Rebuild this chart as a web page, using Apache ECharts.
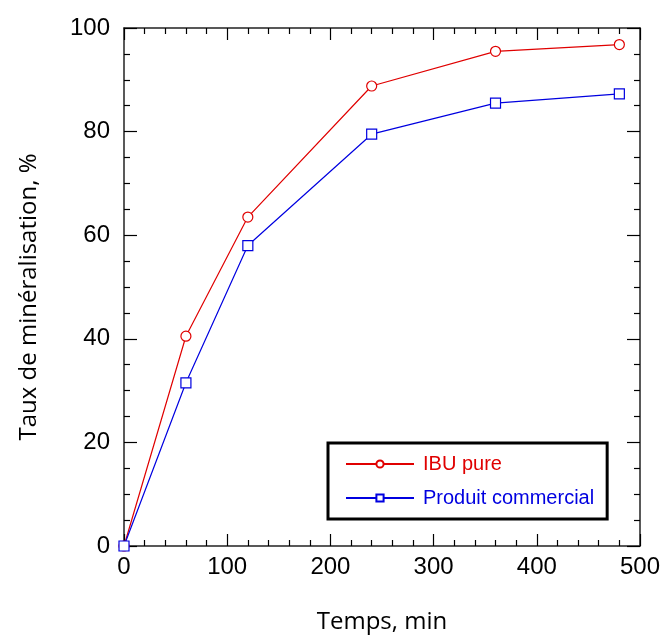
<!DOCTYPE html>
<html><head><meta charset="utf-8">
<script src="https://cdn.jsdelivr.net/npm/echarts@6/dist/echarts.min.js"></script>
<style>html,body{margin:0;padding:0;background:#fff}#c{width:665px;height:635px}</style>
</head><body><div id="c"></div>
<script>
const times = [0, 60, 120, 240, 360, 480];
const ibuPure = [0, 40.5, 63.5, 88.8, 95.5, 96.8];
const produitCommercial = [0, 31.5, 58, 79.5, 85.5, 87.3];
const seriesNames = ['IBU pure', 'Produit commercial'];
const xTitle = 'Temps, min';
const yTitle = 'Taux de minéralisation, %';

const chart = echarts.init(document.getElementById('c'), null, {renderer: 'canvas'});
const axisLine = {show: true, onZero: false, lineStyle: {color: '#222', width: 1.5}};
const tickFont = {fontFamily: 'Liberation Sans', fontSize: 24, color: '#000'};
function xa(pos, labels) {
  return {type: 'value', position: pos, min: 0, max: 500, interval: 100,
    axisLine, splitLine: {show: false},
    axisTick: {show: true, inside: true, length: 12, lineStyle: {color: '#000', width: 1.2}},
    minorTick: {show: true, splitNumber: 5, length: 6, lineStyle: {color: '#000', width: 1.2}},
    axisLabel: labels ? Object.assign({show: true, margin: 9}, tickFont) : {show: false},
    name: labels ? xTitle : '', nameLocation: 'middle', nameGap: 64,
    nameTextStyle: {fontFamily: 'Open Sans', fontSize: 24, color: '#000'}};
}
function ya(pos, labels) {
  return {type: 'value', position: pos, min: 0, max: 100, interval: 20,
    axisLine, splitLine: {show: false},
    axisTick: {show: true, inside: true, length: 13, lineStyle: {color: '#000', width: 1.2}},
    minorTick: {show: true, splitNumber: 4, length: 6, lineStyle: {color: '#000', width: 1.2}},
    axisLabel: labels ? Object.assign({show: true, margin: 14}, tickFont) : {show: false},
    name: labels ? yTitle : '', nameLocation: 'middle', nameGap: 83,
    nameTextStyle: {fontFamily: 'Open Sans', fontSize: 24, color: '#000', padding: [0, 20, 0, 0]}};
}
function mk(arr) { return times.map((t, i) => [t, arr[i]]); }
chart.setOption({
  animation: false,
  backgroundColor: '#fff',
  grid: {left: 124, right: 25, top: 28, bottom: 89, containLabel: false, outerBoundsMode: 'none'},
  xAxis: [xa('bottom', true), xa('top', false)],
  yAxis: [ya('left', true), ya('right', false)],
  legend: {
    left: 328, top: 443,
    orient: 'vertical', itemWidth: 68, itemHeight: 9, itemGap: 14,
    padding: [11, 13, 11, 17],
    borderColor: '#000', borderWidth: 3,
    textStyle: {fontFamily: 'Liberation Sans', fontSize: 20, padding: [0, 0, 0, 4]},
    data: [
      {name: seriesNames[0], textStyle: {color: '#e00000'}},
      {name: seriesNames[1], textStyle: {color: '#0000e0'}}
    ]
  },
  series: [
    {name: seriesNames[0], type: 'line', data: mk(ibuPure), symbol: 'circle', symbolSize: 10,
     itemStyle: {color: '#fff', borderColor: '#e00000', borderWidth: 1.2},
     lineStyle: {color: '#e00000', width: 1.2}},
    {name: seriesNames[1], type: 'line', data: mk(produitCommercial), symbol: 'rect', symbolSize: 10,
     itemStyle: {color: '#fff', borderColor: '#0000e0', borderWidth: 1.2},
     lineStyle: {color: '#0000e0', width: 1.2}}
  ]
});
</script></body></html>
